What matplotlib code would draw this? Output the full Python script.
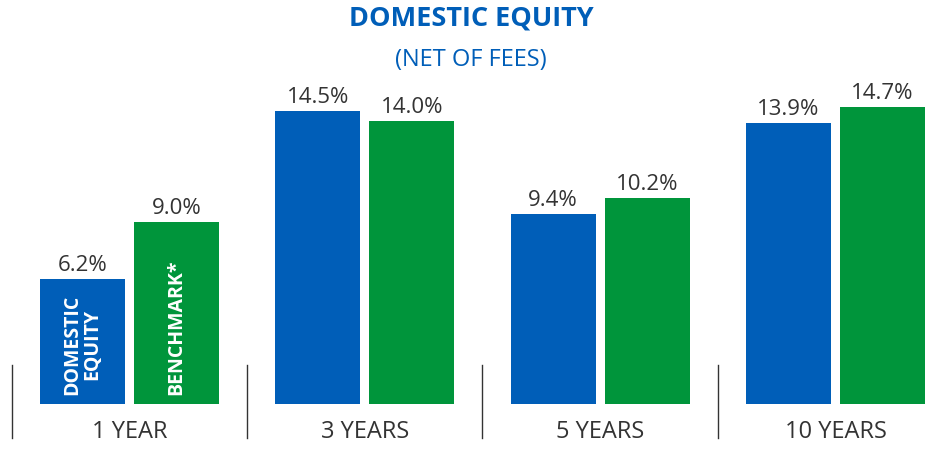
import numpy as np
import matplotlib
matplotlib.use("Agg")
import matplotlib.pyplot as plt

periods = ["1 YEAR", "3 YEARS", "5 YEARS", "10 YEARS"]
domestic = [6.2, 14.5, 9.4, 13.9]
benchmark = [9.0, 14.0, 10.2, 14.7]

BLUE = "#005EB8"
GREEN = "#00953B"
TEXT = "#333333"
plt.rcParams["font.family"] = ["Open Sans", "DejaVu Sans"]

fig = plt.figure(figsize=(9.42, 4.49), dpi=100)
ax = fig.add_axes([0, 0, 1, 1])
ax.set_xlim(-0.5503, 3.4526)
ax.set_ylim(-2.23, 20.0)
ax.axis("off")

x = np.arange(len(periods))
w = 0.361
off = 0.2
ax.bar(x - off, domestic, w, color=BLUE)
ax.bar(x + off, benchmark, w, color=GREEN)

for xi, v in zip(x - off, domestic):
    ax.text(xi, v + 0.15, f"{v:.1f}%", ha="center", va="bottom", fontsize=16, color=TEXT)
for xi, v in zip(x + off, benchmark):
    ax.text(xi, v + 0.15, f"{v:.1f}%", ha="center", va="bottom", fontsize=16, color=TEXT)

# labels inside first pair of bars
ax.text(x[0] - off, 0.45, "DOMESTIC\nEQUITY", rotation=90, ha="center", va="bottom",
        fontsize=14, fontweight="bold", color="white", linespacing=0.98)
ax.text(x[0] + off, 0.45, "BENCHMARK*", rotation=90, ha="center", va="bottom",
        fontsize=14, fontweight="bold", color="white")

for xi, p in zip(x, periods):
    ax.text(xi, -1.39, p, ha="center", va="center", fontsize=17, color=TEXT)
    ax.plot([xi - 0.5, xi - 0.5], [-1.68, 1.93], color=TEXT, lw=1)

fig.text(0.5, 0.958, "DOMESTIC EQUITY", ha="center", va="center", fontsize=19.5,
         fontweight="bold", color=BLUE)
fig.text(0.5, 0.866, "(NET OF FEES)", ha="center", va="center", fontsize=17, color=BLUE)

fig.savefig("out.png", dpi=100)
